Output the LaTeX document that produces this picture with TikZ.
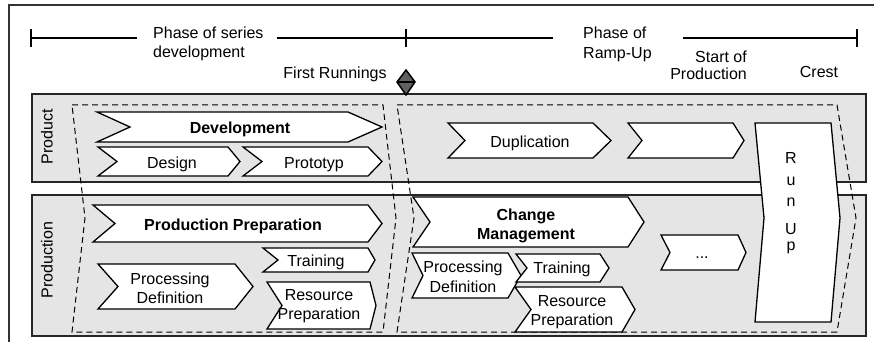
\documentclass[tikz,border=0pt]{standalone}
\usepackage{fontspec}
\setmainfont{Liberation Sans}
\newcommand{\chevron}[6]{% left x, notch x, shoulder x, tip x, top y, bottom y
  \draw[chev] (#1,#5) -- (#3,#5) -- (#4,{(#5+#6)/2}) -- (#3,#6) -- (#1,#6) -- (#2,{(#5+#6)/2}) -- cycle;}
\begin{document}
\begin{tikzpicture}[x=1pt,y=-1pt,
  font=\fontsize{16}{19}\selectfont,
  frame/.style={line width=1.3pt, draw=black!80},
  band/.style={fill=black!10, draw=black!85, line width=1.8pt},
  chev/.style={fill=white, draw=black, line width=1.3pt, line join=miter},
  phase/.style={draw=black, line width=1pt, dash pattern=on 6pt off 4pt},
  tl/.style={draw=black, line width=1.2pt},
  lbl/.style={inner sep=0pt, anchor=base},
  ml/.style={inner sep=0pt, anchor=base, align=center},
  bold/.style={font=\fontsize{16}{19}\selectfont\bfseries}]
\useasboundingbox (0,0) rectangle (874,342);

% outer frame
\draw[frame] (9,342) -- (9,5) -- (874,5);

% time line with phase labels (multi-line labels sit on their last baseline)
\coordinate (t0) at (31,38);
\coordinate (t1) at (406,38);
\coordinate (t2) at (857,38);
\draw[tl] (t0) -- (137,38) (277,38) -- (t1) -- (553,38) (683,38) -- (t2);
\foreach \p in {t0,t1,t2} \draw[tl] ([yshift=-9pt]\p) -- ([yshift=9pt]\p);
\node[inner sep=0pt, anchor=base west, align=left] (series) at (153,58) {Phase of series\\development};
\node[inner sep=0pt, anchor=base west, align=left] (ramp) at (583,59) {Phase of\\[1pt]Ramp-Up};
\node[inner sep=0pt, anchor=base east, align=right] (sop) at (747,80) {Start of\\[-2pt]Production};
\node[lbl] (crest) at (819,78) {Crest};
\node[lbl] (first) at (335,79) {First Runnings};

% swim lanes
\draw[band] (32,94) rectangle (866,182);
\draw[band] (32,195) rectangle (866,336);
\node[rotate=90, inner sep=0pt] (lprod) at (47,137) {Product};
\node[rotate=90, inner sep=0pt] (lproduction) at (47,260) {Production};

% milestone marker
\coordinate (mark) at (406,82);
\draw[fill=black!62, line width=1.5pt, line join=miter] (406,70) -- (415,82) -- (406,95) -- (397,82) -- cycle;
\draw[line width=1.2pt] (397,82) -- (415,82);

% phase outlines
\draw[phase] (72,105) -- (383,105) -- (396,218) -- (383,332) -- (72,332) -- (85,218) -- cycle;
\draw[phase] (397,105) -- (837,105) -- (856,218) -- (837,332) -- (397,332) -- (414,218) -- cycle;

% product lane
\chevron{97}{130}{348}{382}{112}{142}
\chevron{98}{117}{228}{240}{147}{176}
\chevron{243}{262}{368}{382}{147}{176}
\chevron{448}{465}{593}{611}{123}{158}
\chevron{628}{642}{733}{744}{123}{158}
\node[lbl, bold] (dev) at (240,133) {Development};
\node[lbl] (design) at (172,168) {Design};
\node[lbl] (proto) at (314,168) {Prototyp};
\node[lbl] (dup) at (530,147) {Duplication};

% production lane
\chevron{93}{115}{368}{382}{205}{242}
\chevron{98}{118}{235}{253}{264}{309}
\chevron{263}{278}{368}{375}{248}{272}
\chevron{267}{282}{370}{376}{282}{329}
\chevron{413}{430}{628}{644}{197}{247}
\chevron{412}{423}{508}{521}{253}{298}
\chevron{516}{527}{600}{609}{254}{282}
\chevron{515}{531}{622}{635}{287}{332}
\chevron{661}{670}{738}{746}{235}{270}
\node[lbl, bold] (prep) at (233,230) {Production Preparation};
\node[ml] (procA) at (170,303) {Processing\\Definition};
\node[lbl] (trainA) at (316,266) {Training};
\node[ml] (resA) at (319,319) {Resource\\Preparation};
\node[ml, bold] (change) at (526,239) {Change\\Management};
\node[ml] (procB) at (463,292) {Processing\\[1pt]Definition};
\node[lbl] (trainB) at (562,273) {Training};
\node[ml] (resB) at (572,325) {Resource\\Preparation};
\node[lbl] (more) at (702,258) {...};

% run up across both lanes
\draw[chev] (755,123) -- (831,123) -- (840,218) -- (831,322) -- (755,322) -- (764,218) -- cycle;
\node[lbl] (rR) at (791,163) {R};
\node[lbl] (ru) at (791,185) {u};
\node[lbl] (rn) at (791,206) {n};
\node[lbl] (rU) at (791,234) {U};
\node[lbl] (rp) at (791,250) {p};
\end{tikzpicture}
\end{document}
